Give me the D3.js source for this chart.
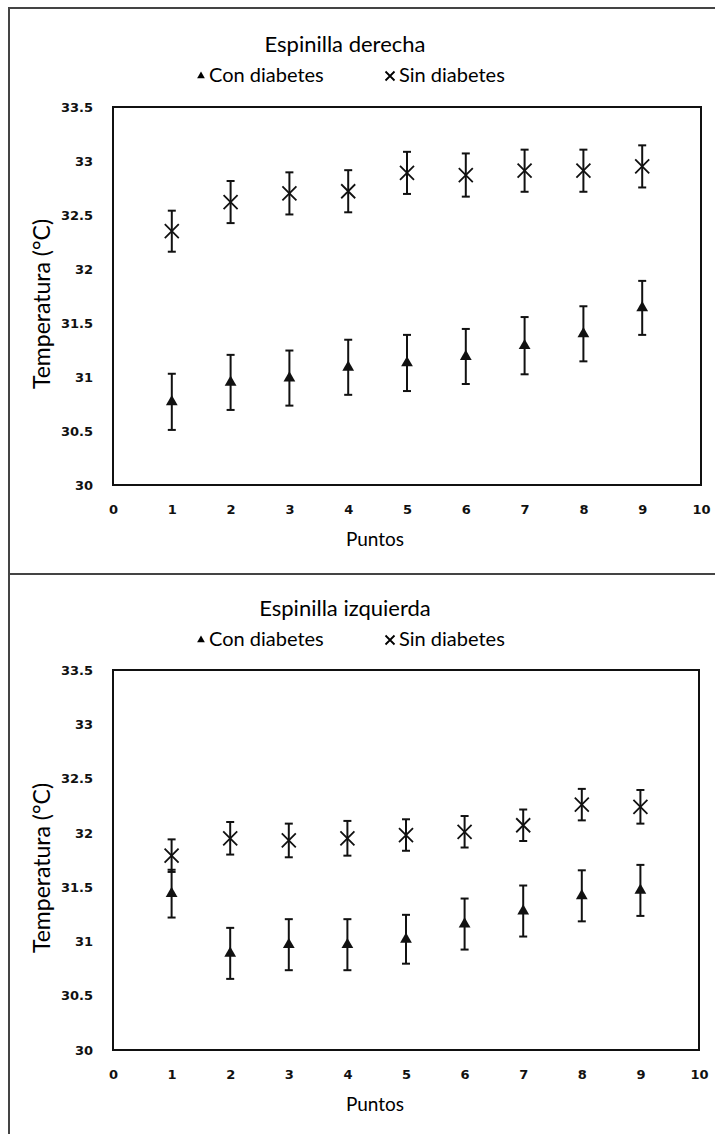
<!DOCTYPE html>
<html><head><meta charset="utf-8">
<script src="https://cdn.jsdelivr.net/npm/d3@7"></script>
<style>body{margin:0;background:#fff}svg{display:block}</style>
</head><body>
<svg id="c" width="715" height="1134"></svg>
<script>
const puntos = [1,2,3,4,5,6,7,8,9];
const xTicks = [0,1,2,3,4,5,6,7,8,9,10];
const yTicks = [30,30.5,31,31.5,32,32.5,33,33.5];
const yTickLabels = ["30","30.5","31","31.5","32","32.5","33","33.5"];

// Espinilla derecha
const derConMean = [30.77,30.95,30.99,31.09,31.13,31.19,31.29,31.40,31.64];
const derConErr  = [0.26,0.255,0.255,0.255,0.26,0.255,0.265,0.255,0.25];
const derSinMean = [32.35,32.62,32.70,32.72,32.89,32.87,32.91,32.91,32.95];
const derSinErr  = [0.19,0.195,0.195,0.195,0.195,0.2,0.195,0.195,0.195];

// Espinilla izquierda
const izqConMean = [31.44,30.89,30.97,30.97,31.02,31.16,31.28,31.42,31.47];
const izqConErr  = [0.22,0.235,0.235,0.235,0.225,0.235,0.235,0.235,0.235];
const izqSinMean = [31.79,31.95,31.93,31.95,31.98,32.01,32.07,32.26,32.24];
const izqSinErr  = [0.15,0.15,0.155,0.16,0.145,0.145,0.145,0.145,0.155];

const titles = ["Espinilla derecha","Espinilla izquierda"];
const legendLabels = ["Con diabetes","Sin diabetes"];

const svg = d3.select("#c");
const font = "Lato, 'Open Sans', sans-serif";
const tickFont = "'DejaVu Sans', Verdana, sans-serif";

// outer frame
svg.append("path").attr("d","M715,8 H9 V1134").attr("fill","none").attr("stroke","#444").attr("stroke-width",2);
svg.append("line").attr("x1",9).attr("x2",715).attr("y1",574).attr("y2",574).attr("stroke","#444").attr("stroke-width",2);

function panel(oy, title, conM, conE, sinM, sinE, plotTop, plotBottom, plotRight){
  const g = svg.append("g");
  const x = d3.scaleLinear().domain([0,10]).range([113, plotRight]);
  const y = d3.scaleLinear().domain([30,33.5]).range([plotBottom, plotTop]);

  g.append("text").attr("x",345).attr("y",oy+52).attr("text-anchor","middle")
    .attr("font-family",font).attr("font-size",22).attr("fill","#000").text(title);

  // legend
  const ly = oy+82;
  g.append("path").attr("d",d3.symbol(d3.symbolTriangle,26)()).attr("transform",`translate(201,${ly-6})`).attr("fill","#000");
  g.append("text").attr("x",209).attr("y",ly).attr("font-family",font).attr("font-size",20).attr("fill","#000").text(legendLabels[0]);
  g.append("path").attr("d","M-4.5,-4.5L4.5,4.5M-4.5,4.5L4.5,-4.5").attr("transform",`translate(390,${ly-6})`).attr("stroke","#000").attr("stroke-width",1.8);
  g.append("text").attr("x",399).attr("y",ly).attr("font-family",font).attr("font-size",20).attr("fill","#000").text(legendLabels[1]);

  // plot border
  g.append("rect").attr("x",x(0)).attr("y",y(33.5)).attr("width",x(10)-x(0)).attr("height",y(30)-y(33.5))
    .attr("fill","none").attr("stroke","#111").attr("stroke-width",2);

  // y axis
  const ya = g.append("g").attr("transform",`translate(${x(0)},0)`)
    .call(d3.axisLeft(y).tickValues(yTicks).tickSize(0).tickPadding(20).tickFormat((d,i)=>yTickLabels[i]));
  ya.select(".domain").remove();
  ya.selectAll("text").attr("font-family",tickFont).attr("font-weight","bold").attr("font-size",13).attr("fill","#111");

  // x axis
  const xa = g.append("g").attr("transform",`translate(0,${y(30)})`)
    .call(d3.axisBottom(x).tickValues(xTicks).tickSize(0).tickPadding(20).tickFormat(d3.format("d")));
  xa.select(".domain").remove();
  xa.selectAll("text").attr("font-family",tickFont).attr("font-weight","bold").attr("font-size",13).attr("fill","#111");

  g.append("text").attr("x",375).attr("y",y(30)+61).attr("text-anchor","middle")
    .attr("font-family",font).attr("font-size",19).attr("fill","#000").text("Puntos");
  g.append("text").attr("transform",`translate(50,${(y(30)+y(33.5))/2+8}) rotate(-90)`).attr("text-anchor","middle")
    .attr("font-family",font).attr("font-size",23).attr("fill","#000").text("Temperatura (°C)");

  function errbars(means, errs){
    const eg = g.append("g").attr("stroke","#111").attr("stroke-width",2);
    puntos.forEach((p,i)=>{
      const cx = x(p), t = y(means[i]+errs[i]), b = y(means[i]-errs[i]);
      eg.append("line").attr("x1",cx).attr("x2",cx).attr("y1",t).attr("y2",b);
      eg.append("line").attr("x1",cx-4).attr("x2",cx+4).attr("y1",t).attr("y2",t);
      eg.append("line").attr("x1",cx-4).attr("x2",cx+4).attr("y1",b).attr("y2",b);
    });
  }
  errbars(sinM, sinE);
  errbars(conM, conE);

  g.selectAll(".tri").data(puntos).enter().append("path")
    .attr("d",d3.symbol(d3.symbolTriangle,60)())
    .attr("transform",(d,i)=>`translate(${x(d)},${y(conM[i])})`).attr("fill","#111");
  g.selectAll(".cross").data(puntos).enter().append("path")
    .attr("d","M-7,-7L7,7M-7,7L7,-7")
    .attr("transform",(d,i)=>`translate(${x(d)},${y(sinM[i])})`).attr("stroke","#111").attr("stroke-width",1.8);
}

panel(0, titles[0], derConMean, derConErr, derSinMean, derSinErr, 107, 485, 701);
panel(564, titles[1], izqConMean, izqConErr, izqSinMean, izqSinErr, 670, 1050, 699);
</script>
</body></html>
